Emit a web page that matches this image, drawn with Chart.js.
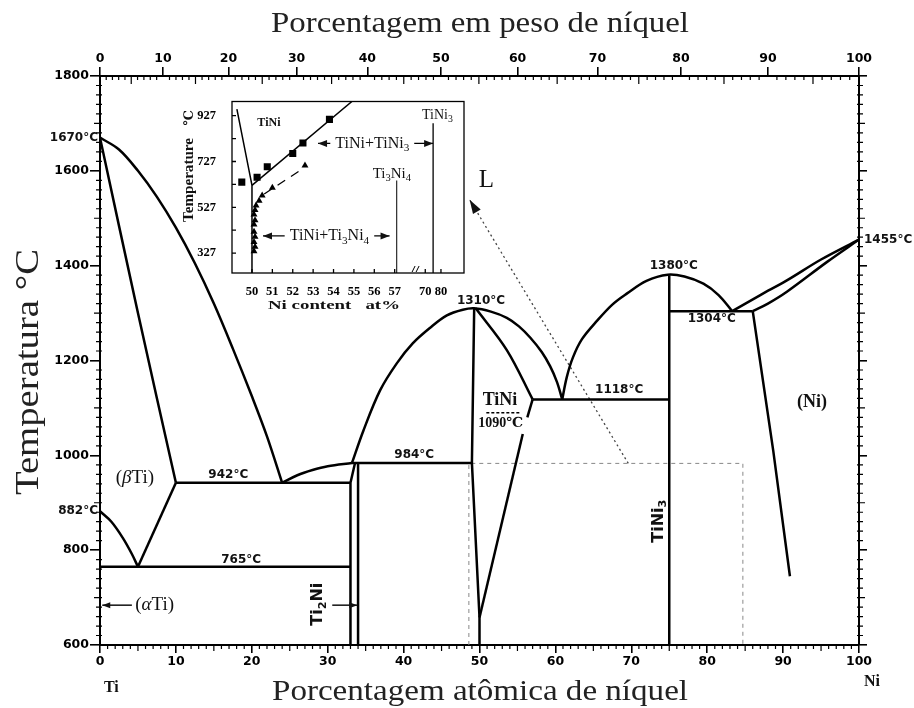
<!DOCTYPE html>
<html>
<head>
<meta charset="utf-8">
<script src="https://cdn.jsdelivr.net/npm/chart.js@4.4.0/dist/chart.umd.min.js"></script>
<style>
  html, body { margin: 0; padding: 0; background: #fff; }
  #wrap { position: relative; width: 914px; height: 708px; }
  #main { position: absolute; left: 0; top: 0; }
  #inset { position: absolute; left: 160px; top: 86px; }
</style>
</head>
<body>
<div id="wrap">
  <canvas id="main" width="914" height="708"></canvas>
  <canvas id="inset" width="310" height="228"></canvas>
</div>
<script>
(function(){
  'use strict';

  // ---- main diagram data: x = atomic % Ni, y = temperature (°C)
  const atTicks = [0, 10, 20, 30, 40, 50, 60, 70, 80, 90, 100];
  const wtTicks = [0, 10, 20, 30, 40, 50, 60, 70, 80, 90, 100];
  const tempTicks = [600, 800, 1000, 1200, 1400, 1600, 1800];

  const liqTi = [[0,1670],[2.5,1645],[5,1600],[7.5,1545],[10,1480],[12.5,1405],[15,1320],[17.5,1225],[20,1125],[22,1040],[24,942]];
  const solBeta = [[0,1670],[5,1300],[10,942]];
  const betaAlpha = [[0,882],[1.5,860],[3,826],[4.2,792],[5,765]];
  const eutectoidR = [[5,765],[10,942]];
  const line765 = [[0,765],[33,765]];
  const line942 = [[10,942],[33,942]];
  const liqEutectic = [[24,942],[26,958],[28,969],[30,977],[33.2,984]];
  const ti2niLeft = [[33,600],[33,942],[33.6,984]];
  const ti2niRight = [[34,600],[34,984]];
  const line984 = [[33.2,984],[49,984]];
  const domeTiNi = [[33.2,984],[34.7,1052],[36.9,1137],[39.1,1194],[41.2,1236],[43.5,1269],[45.7,1295],[47.8,1307],[49.3,1310],[51.5,1303],[53.6,1290],[55.2,1272],[56.7,1248],[58.2,1218],[59.3,1188],[60.2,1155],[60.9,1118]];
  const tiniLeft = [[49.3,1310],[49,984],[50,658],[50,600]];
  const tiniSolidus = [[49.5,1310],[53.6,1222],[57,1118]];
  const tiniRightLow = [[50,658],[55.7,1045]];
  const tiniRightHigh = [[56.3,1080],[57,1118]];
  const tini1090 = [[50.9,1090],[55.5,1090]];
  const domeTiNi3 = [[60.9,1118],[61.5,1165],[62.3,1206],[63.5,1245],[65.5,1284],[67.5,1318],[69.4,1341],[72,1368],[74.8,1381],[77,1377],[79.5,1362],[81.5,1338],[83.3,1304]];
  const tini3Line = [[75,600],[75,1380]];
  const line1118 = [[57,1118],[75,1118]];
  const line1304 = [[75,1304],[86,1304]];
  const niSolvus = [[86,1304],[88.7,1010],[90.9,745]];
  const niLiquidus = [[83.3,1304],[87,1338],[90.5,1369],[95,1413],[100,1455]];
  const niSolidus = [[86,1304],[88,1320],[90.5,1345],[95.8,1408],[100,1455]];
  const zoomBox = [[48.6,600],[48.6,983],[84.7,983],[84.7,600]];
  const zoomArrow = [[69.6,983],[48.7,1539]];

  // ---- inset data: x = Ni content at%, y = temperature (°C)
  const insetAtTicks = [50, 51, 52, 53, 54, 55, 56, 57, 70, 80];
  const insetTempTicks = [327, 427, 527, 627, 727, 827, 927];
  const insetSquares = [[49.5,637],[50.25,658],[50.75,704],[52.0,762],[52.5,808],[53.8,911]];
  const insetTriangles = [[52.6,710],[51.0,612],[50.5,578],[50.35,555],[50.2,535],[50.15,515],[50.1,495],[50.15,470],[50.1,452],[50.1,420],[50.15,398],[50.1,375],[50.15,355],[50.1,335]];
  const insetTiNiLeft = [[49.26,956],[50,623],[50,240]];
  const insetSolvus = [[50,623],[54.9,989]];
  const insetDashed = [[50.6,585],[52.4,690]];
  const insetTi3Ni4 = [[57.1,240],[57.1,644]];
  const insetTiNi3 = [[75,240],[75,894]];

  // weight % -> atomic % (top axis)
  const M_TI = 47.867, M_NI = 58.693;
  function wtToAt(w){ const n = w / M_NI, t = (100 - w) / M_TI; return 100 * n / (n + t); }
  // inset broken axis: 70..80 squeezed after the break
  function brk(v){ return v <= 60 ? v : 58.5 + (v - 70) * 0.077; }

  const pts = a => a.map(p => ({ x: p[0], y: p[1] }));
  const SANS = '"DejaVu Sans", sans-serif';
  const SERIF = '"Liberation Serif", "DejaVu Serif", serif';

  function line(data, extra){
    return Object.assign({
      data: pts(data), showLine: true, borderColor: '#000', backgroundColor: '#000',
      borderWidth: 2.5, pointRadius: 0, tension: 0, xAxisID: 'x', yAxisID: 'y'
    }, extra || {});
  }
  const curve = { tension: 0.35 };

  // text with "_3" subscripts and "~β" italics
  function rich(ctx, s, x, y, size, fam, weight, align){
    const parts = [];
    for (let i = 0; i < s.length; i++) {
      let kind = 'n', ch = s[i];
      if (ch === '_') { kind = 's'; ch = s[++i]; }
      else if (ch === '~') { kind = 'i'; ch = s[++i]; }
      const last = parts[parts.length - 1];
      if (last && last.k === kind && kind === 'n') last.t += ch;
      else parts.push({ k: kind, t: ch });
    }
    const fontFor = p => (p.k === 'i' ? 'italic ' : '') + (weight || '') + ' ' + (p.k === 's' ? size * 0.7 : size) + 'px ' + fam;
    let total = 0;
    parts.forEach(p => { ctx.font = fontFor(p); p.w = ctx.measureText(p.t).width; total += p.w; });
    let cx = align === 'left' ? x : align === 'right' ? x - total : x - total / 2;
    ctx.textAlign = 'left';
    ctx.textBaseline = 'middle';
    parts.forEach(p => {
      ctx.font = fontFor(p);
      ctx.fillText(p.t, cx, p.k === 's' ? y + size * 0.3 : y);
      cx += p.w;
    });
    return total;
  }

  function arrowHead(ctx, x1, y1, x2, y2, len, w){
    const a = Math.atan2(y2 - y1, x2 - x1);
    ctx.beginPath();
    ctx.moveTo(x2, y2);
    ctx.lineTo(x2 - len * Math.cos(a) + w * Math.sin(a), y2 - len * Math.sin(a) - w * Math.cos(a));
    ctx.lineTo(x2 - len * Math.cos(a) - w * Math.sin(a), y2 - len * Math.sin(a) + w * Math.cos(a));
    ctx.closePath();
    ctx.fill();
  }

  function fitText(ctx, s, x, y, font, width, rot){
    ctx.save();
    ctx.translate(x, y);
    if (rot) ctx.rotate(rot);
    ctx.font = font;
    const w = ctx.measureText(s).width;
    ctx.scale(width / w, 1);
    ctx.textAlign = 'center';
    ctx.textBaseline = 'alphabetic';
    ctx.fillText(s, 0, 0);
    ctx.restore();
  }

  // minor ticks of the main frame
  const mainTicks = {
    id: 'mainTicks',
    afterDraw(c){
      const ctx = c.ctx, a = c.chartArea, x = c.scales.x, y = c.scales.y;
      ctx.save();
      ctx.strokeStyle = '#000';
      ctx.lineWidth = 1.2;
      ctx.beginPath();
      for (let v = 1; v < 100; v++) {
        if (v % 10 === 0) continue;
        const px = x.getPixelForValue(v), l = v % 5 === 0 ? 6 : 4;
        ctx.moveTo(px, a.bottom); ctx.lineTo(px, a.bottom + l);
      }
      for (let w = 1; w < 100; w++) {
        if (w % 10 === 0) continue;
        const px = x.getPixelForValue(wtToAt(w)), l = w % 5 === 0 ? 8 : 4;
        ctx.moveTo(px, a.top); ctx.lineTo(px, a.top + l);
      }
      for (let t = 620; t < 1800; t += 20) {
        if (t % 200 === 0) continue;
        const py = y.getPixelForValue(t), l = t % 100 === 0 ? 6 : 4;
        ctx.moveTo(a.left - l, py); ctx.lineTo(a.left + 2, py);
        ctx.moveTo(a.right - 2, py); ctx.lineTo(a.right + l, py);
      }
      ctx.stroke();
      ctx.restore();
    }
  };

  // labels, arrows and titles on the main diagram
  const mainNotes = {
    id: 'mainNotes',
    afterDraw(c){
      const ctx = c.ctx, X = v => c.scales.x.getPixelForValue(v), Y = v => c.scales.y.getPixelForValue(v);
      ctx.save();
      ctx.fillStyle = '#111';
      ctx.strokeStyle = '#111';
      const b12 = (s, x, y, al, dx) => rich(ctx, s, X(x) + (dx || 0), Y(y), 12, SANS, 'bold', al || 'center');

      b12('1670°C', 0, 1670, 'right', -2);
      b12('882°C', 0, 882, 'right', -2);
      b12('1455°C', 100, 1455, 'left', 5);
      b12('942°C', 16.9, 958);
      b12('765°C', 18.6, 779);
      b12('984°C', 41.4, 1000);
      b12('1310°C', 50.2, 1326);
      b12('1118°C', 68.4, 1137);
      b12('1380°C', 75.6, 1400);
      b12('1304°C', 80.6, 1288);

      rich(ctx, 'TiNi', X(52.7), Y(1116), 18, SERIF, 'bold', 'center');
      rich(ctx, '1090℃', X(52.8), Y(1067), 14, SERIF, 'bold', 'center');
      rich(ctx, '(Ni)', X(93.8), Y(1112), 18, SERIF, 'bold', 'center');
      rich(ctx, '(~βTi)', X(4.6), Y(952), 19, SERIF, '', 'center');
      rich(ctx, '(~αTi)', X(7.2), Y(684), 19, SERIF, '', 'center');
      rich(ctx, 'L', X(50.9), Y(1579), 25, SERIF, '', 'center');
      rich(ctx, 'Ti', X(1.5), 688, 16, SERIF, 'bold', 'center');
      rich(ctx, 'Ni', X(100) + 13, 682, 16, SERIF, 'bold', 'center');

      // rotated compound labels
      [['TiNi_3', 73.6, 861], ['Ti_2Ni', 28.7, 686]].forEach(r => {
        ctx.save();
        ctx.translate(X(r[1]), Y(r[2]));
        ctx.rotate(-Math.PI / 2);
        rich(ctx, r[0], 0, 0, 16, SANS, 'bold', 'center');
        ctx.restore();
      });

      // arrows
      ctx.lineWidth = 1.5;
      const arr = (x1, x2, t) => {
        ctx.beginPath(); ctx.moveTo(X(x1), Y(t)); ctx.lineTo(X(x2), Y(t)); ctx.stroke();
        arrowHead(ctx, X(x1), Y(t), X(x2), Y(t), 8, 3);
      };
      arr(4.2, 0.3, 684);
      arr(30.6, 33.9, 684);
      const s = zoomArrow[0], e = zoomArrow[1];
      arrowHead(ctx, X(s[0]), Y(s[1]), X(e[0]), Y(e[1]), 14, 4.5);

      // axis titles
      ctx.fillStyle = '#222';
      fitText(ctx, 'Porcentagem em peso de níquel', 480, 32, '30px ' + SERIF, 418);
      fitText(ctx, 'Porcentagem atômica de níquel', 480, 700, '30px ' + SERIF, 416);
      fitText(ctx, 'Temperatura °C', 38, 372, '33px ' + SERIF, 246, -Math.PI / 2);
      ctx.restore();
    }
  };

  const tickFont = { family: SANS, weight: 'bold', size: 12.5 };
  const frame = { color: '#000', width: 2 };
  const majorGrid = len => ({ drawOnChartArea: false, drawTicks: true, tickLength: len, color: '#000', lineWidth: 1.6 });
  const plain = v => String(v);

  new Chart(document.getElementById('main'), {
    type: 'scatter',
    data: {
      datasets: [
        line(liqTi, curve), line(solBeta, curve), line(betaAlpha, curve), line(eutectoidR),
        line(line765), line(line942), line(liqEutectic, curve), line(ti2niLeft), line(ti2niRight),
        line(line984), line(domeTiNi, curve), line(tiniLeft), line(tiniSolidus, curve),
        line(tiniRightLow), line(tiniRightHigh), line(tini1090, { borderWidth: 1.5, borderDash: [3, 2] }),
        line(domeTiNi3, curve), line(tini3Line), line(line1118), line(line1304),
        line(niSolvus), line(niLiquidus, curve), line(niSolidus, curve),
        line(zoomBox, { borderColor: '#888', borderWidth: 1, borderDash: [4, 4] }),
        line(zoomArrow, { borderColor: '#444', borderWidth: 1.3, borderDash: [2, 3] })
      ]
    },
    options: {
      responsive: false,
      animation: false,
      layout: { padding: 0 },
      plugins: { legend: { display: false }, tooltip: { enabled: false } },
      scales: {
        x: {
          type: 'linear', position: 'bottom', min: 0, max: 100,
          afterBuildTicks: s => { s.ticks = atTicks.map(v => ({ value: v })); },
          afterFit: s => { s.height = 63; },
          ticks: { font: tickFont, color: '#000', padding: 1, maxRotation: 0, autoSkip: false, callback: plain },
          grid: majorGrid(8), border: frame
        },
        x2: {
          type: 'linear', position: 'top', min: 0, max: 100,
          afterBuildTicks: s => { s.ticks = wtTicks.map(w => ({ value: wtToAt(w) })); },
          afterFit: s => { s.height = 76; },
          ticks: { font: tickFont, color: '#000', padding: 1, maxRotation: 0, autoSkip: false, callback: (v, i) => String(wtTicks[i]) },
          grid: majorGrid(9), border: frame
        },
        y: {
          type: 'linear', position: 'left', min: 600, max: 1800,
          afterBuildTicks: s => { s.ticks = tempTicks.map(v => ({ value: v })); },
          afterFit: s => { s.width = 100; },
          ticks: { font: tickFont, color: '#000', padding: 1, autoSkip: false, callback: plain },
          grid: majorGrid(10), border: frame
        },
        y2: {
          type: 'linear', position: 'right', min: 600, max: 1800,
          afterBuildTicks: s => { s.ticks = tempTicks.map(v => ({ value: v })); },
          afterFit: s => { s.width = 55; },
          ticks: { display: false },
          grid: majorGrid(8), border: frame
        }
      }
    },
    plugins: [mainTicks, mainNotes]
  });

  // ---- inset
  const insetDecor = {
    id: 'insetDecor',
    beforeDatasetsDraw(c){
      const ctx = c.ctx, a = c.chartArea;
      ctx.save();
      ctx.fillStyle = '#fff';
      ctx.fillRect(a.left, a.top, a.right - a.left, a.bottom - a.top);
      ctx.restore();
    },
    afterDraw(c){
      const ctx = c.ctx, a = c.chartArea, X = v => c.scales.x.getPixelForValue(brk(v)), Y = v => c.scales.y.getPixelForValue(v);
      ctx.save();
      ctx.strokeStyle = '#000';
      ctx.fillStyle = '#111';
      ctx.lineWidth = 1.3;
      ctx.strokeRect(a.left, a.top, a.right - a.left, a.bottom - a.top);
      ctx.beginPath();
      insetAtTicks.forEach(v => { ctx.moveTo(X(v), a.bottom); ctx.lineTo(X(v), a.bottom - 4); });
      insetTempTicks.forEach(t => { ctx.moveTo(a.left, Y(t)); ctx.lineTo(a.left + 4, Y(t)); });
      ctx.stroke();
      // axis break mark
      const bx = c.scales.x.getPixelForValue(58.05);
      ctx.lineWidth = 1;
      ctx.beginPath();
      ctx.moveTo(bx - 4, a.bottom - 1); ctx.lineTo(bx - 1, a.bottom - 7);
      ctx.moveTo(bx, a.bottom - 1); ctx.lineTo(bx + 3, a.bottom - 7);
      ctx.stroke();

      rich(ctx, 'TiNi', X(50.83), Y(894), 12, SERIF, 'bold', 'center');
      rich(ctx, 'Ti_3Ni_4', X(56.86), Y(673), 15, SERIF, '', 'center');
      rich(ctx, 'TiNi_3', X(59.0) + 2, Y(928), 14, SERIF, '', 'center');

      ctx.lineWidth = 1.2;
      const span = (s, cx, t, lx, rx) => {
        const px = X(cx), py = Y(t);
        const w = rich(ctx, s, px, py, 16, SERIF, '', 'center');
        const l0 = px - w / 2 - 5, r0 = px + w / 2 + 5;
        ctx.beginPath(); ctx.moveTo(l0, py); ctx.lineTo(X(lx), py); ctx.moveTo(r0, py); ctx.lineTo(X(rx), py); ctx.stroke();
        arrowHead(ctx, l0, py, X(lx), py, 9, 3.5);
        arrowHead(ctx, r0, py, X(rx), py, 9, 3.5);
      };
      span('TiNi+TiNi_3', 55.9, 806, 53.24, 75);
      span('TiNi+Ti_3Ni_4', 53.8, 402, 50.54, 56.75);

      // axis titles
      ctx.fillStyle = '#111';
      fitText(ctx, 'Temperature', 33, 94, 'bold 14px ' + SERIF, 84, -Math.PI / 2);
      ctx.save();
      ctx.translate(30, 32);
      ctx.rotate(-Math.PI / 2);
      rich(ctx, '℃', 0, 0, 13, SERIF, 'bold', 'center');
      ctx.restore();
      fitText(ctx, 'Ni content   at%', 174, 223, 'bold 13px ' + SERIF, 132);
      ctx.restore();
    }
  };

  const insetFont = { family: SERIF, weight: 'bold', size: 12.5 };
  const iline = (data, extra) => Object.assign({
    data: pts(data.map(p => [brk(p[0]), p[1]])), showLine: true, borderColor: '#000',
    backgroundColor: '#000', borderWidth: 1.5, pointRadius: 0, tension: 0
  }, extra || {});

  new Chart(document.getElementById('inset'), {
    type: 'scatter',
    data: {
      datasets: [
        iline(insetTiNiLeft), iline(insetSolvus),
        iline(insetDashed, { borderDash: [9, 7], borderWidth: 1.3 }),
        iline(insetTi3Ni4, { borderWidth: 1 }), iline(insetTiNi3, { borderWidth: 1.3 }),
        iline(insetSquares, { showLine: false, pointStyle: 'rect', pointRadius: 5, borderWidth: 0 }),
        iline(insetTriangles, { showLine: false, pointStyle: 'triangle', pointRadius: 4, borderWidth: 0 })
      ]
    },
    options: {
      responsive: false,
      animation: false,
      layout: { padding: { top: 6, right: 6, left: 0, bottom: 0 } },
      plugins: { legend: { display: false }, tooltip: { enabled: false } },
      scales: {
        x: {
          type: 'linear', min: 49.02, max: 60.4,
          afterBuildTicks: s => { s.ticks = insetAtTicks.map(v => ({ value: brk(v) })); },
          afterFit: s => { s.height = 41; },
          ticks: { font: insetFont, color: '#000', padding: 3, maxRotation: 0, autoSkip: false, callback: (v, i) => String(insetAtTicks[i]) },
          grid: { display: false }, border: { display: false }
        },
        y: {
          type: 'linear', min: 240, max: 989,
          afterBuildTicks: s => { s.ticks = insetTempTicks.map(v => ({ value: v })); },
          afterFit: s => { s.width = 72; },
          ticks: { font: insetFont, color: '#000', padding: 8, autoSkip: false, callback: v => ((v - 327) % 200 === 0 ? String(v) : '') },
          grid: { display: false }, border: { display: false }
        }
      }
    },
    plugins: [insetDecor]
  });
})();
</script>
</body>
</html>
